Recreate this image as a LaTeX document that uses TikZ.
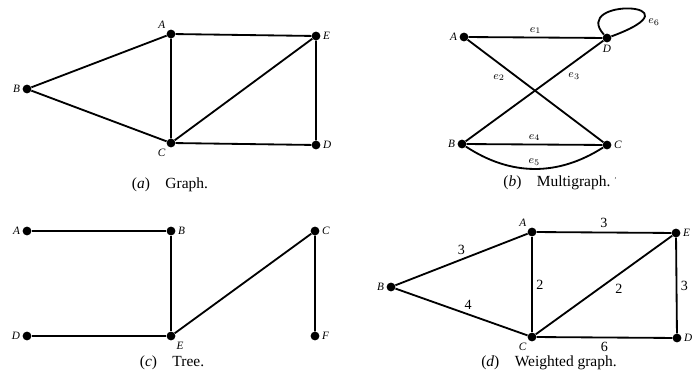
\documentclass[tikz,border=0pt]{standalone}
\usepackage{fontspec}
\setmainfont{Liberation Serif}
\usetikzlibrary{arrows.meta}

\begin{document}
\begin{tikzpicture}[
  x=0.025cm, y=-0.025cm,
  every node/.style={font=\small},
  vtx/.style={circle, fill=black, inner sep=0pt, minimum size=0.22cm},
  vl/.style={font=\footnotesize\itshape, inner sep=1.5pt},
  ln/.style={line width=1.3pt},
  el/.style={font=\footnotesize, inner sep=2pt},
  wt/.style={font=\normalsize, inner sep=2.5pt},
  captxt/.style={font=\fontsize{11}{13}\selectfont}
]
\useasboundingbox (0,0) rectangle (698,392);

% ── (a) Graph ───────────────────────────────────────────────────────────────
\node[vtx, label={[vl]above left:A}]  (aA) at (171,34)  {};
\node[vtx, label={[vl]right:E}]       (aE) at (316,36)  {};
\node[vtx, label={[vl]left:B}]        (aB) at (27,89)   {};
\node[vtx, label={[vl]below left:C}]  (aC) at (171,143) {};
\node[vtx, label={[vl]right:D}]       (aD) at (316,145) {};

\draw[ln] (aB) -- (aA) -- (aE) -- (aD) -- (aC) -- (aB);
\draw[ln] (aA) -- (aC) -- (aE);

\node[captxt] (capa) at (170,185) {(\textit{a})\quad Graph.};

% ── (b) Multigraph ──────────────────────────────────────────────────────────
\node[vtx, label={[vl]left:A}]   (bA) at (464,37)  {};
\node[vtx, label={[vl]below:D}]  (bD) at (607,38)  {};
\node[vtx, label={[vl]left:B}]   (bB) at (462,144) {};
\node[vtx, label={[vl]right:C}]  (bC) at (607,145) {};

\draw[ln] (bA) -- node[el, above]{$e_1$} (bD);
\draw[ln] (bA) -- node[el, below left, pos=0.3]{$e_2$} (bC);
\draw[ln] (bB) -- node[el, below right, pos=0.72]{$e_3$} (bD);
\draw[ln] (bB) -- node[el, above]{$e_4$} (bC);
\draw[ln] (bB) to[bend right=33] node[el, above]{$e_5$} (bC);
\draw[ln] (bD) .. controls (570,-3) and (705,2) .. (bD);
\node[el] (e6) at (654,22) {$e_6$};

\node[captxt] (capb) at (560,183) {(\textit{b})\quad Multigraph.\ \raisebox{0.6ex}{\tiny'}};

% ── (c) Tree ────────────────────────────────────────────────────────────────
\node[vtx, label={[vl]left:A}]        (cA) at (27,231)  {};
\node[vtx, label={[vl]right:B}]       (cB) at (171,231) {};
\node[vtx, label={[vl]right:C}]       (cC) at (315,231) {};
\node[vtx, label={[vl]left:D}]        (cD) at (27,336)  {};
\node[vtx, label={[vl]below right:E}] (cE) at (171,336) {};
\node[vtx, label={[vl]right:F}]       (cF) at (315,336) {};

\draw[ln] (cA) -- (cB) -- (cE) -- (cD);
\draw[ln] (cE) -- (cC) -- (cF);

\node[captxt] (capc) at (172,363) {(\textit{c})\quad Tree.};

% ── (d) Weighted graph ──────────────────────────────────────────────────────
\node[vtx, label={[vl]above left:A}]  (dA) at (532,232) {};
\node[vtx, label={[vl]right:E}]       (dE) at (676,233) {};
\node[vtx, label={[vl]left:B}]        (dB) at (391,287) {};
\node[vtx, label={[vl]below left:C}]  (dC) at (532,337) {};
\node[vtx, label={[vl]right:D}]       (dD) at (677,338) {};

\draw[ln] (dB) -- node[wt, above]{3} (dA);
\draw[ln] (dA) -- node[wt, above]{3} (dE);
\draw[ln] (dA) -- node[wt, right]{2} (dC);
\draw[ln] (dC) -- node[wt, below right, pos=0.55]{2} (dE);
\draw[ln] (dE) -- node[wt, right]{3} (dD);
\draw[ln] (dB) -- node[wt, above, pos=0.55]{4} (dC);
\draw[ln] (dC) -- node[wt, below]{6} (dD);

\node[captxt] (capd) at (549,363) {(\textit{d})\quad Weighted graph.};

\end{tikzpicture}
\end{document}
